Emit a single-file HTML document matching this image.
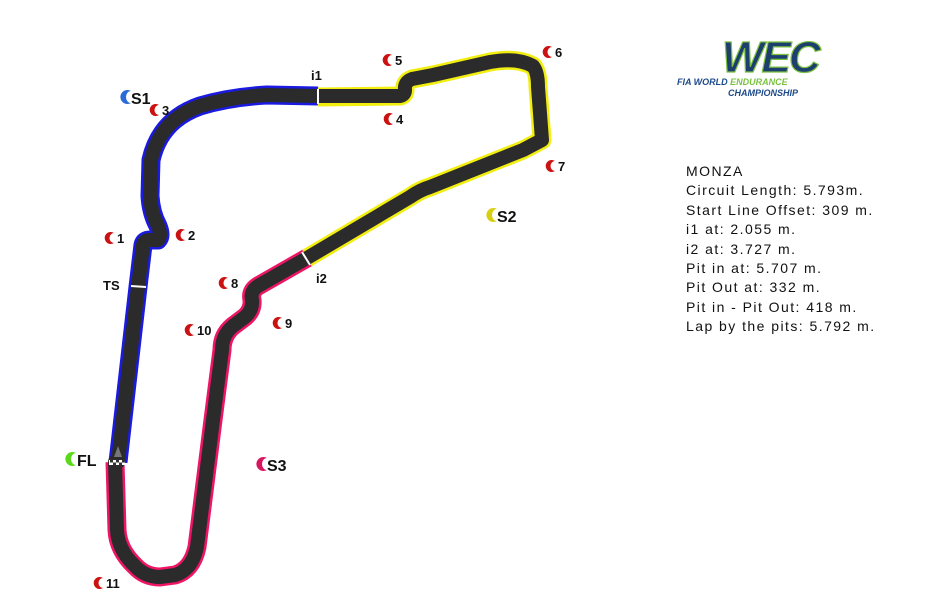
<!DOCTYPE html>
<html><head><meta charset="utf-8"><style>
html,body{margin:0;padding:0;background:#fff;width:950px;height:616px;overflow:hidden}
.info{position:absolute;left:686px;top:162px;font-family:"Liberation Sans",sans-serif;font-size:14px;letter-spacing:1.45px;line-height:19.4px;color:#111}
</style></head><body>
<svg width="950" height="616" style="position:absolute;left:0;top:0" font-family="Liberation Sans, sans-serif">
<defs>
<path id="cr" d="M3,-5 A6,6 0 1,0 3,5 A4.5,5 0 1,1 3,-5 Z"/>
</defs>
<g fill="none" stroke-linejoin="round" stroke-linecap="butt">
<path d="M118,462 L138,287 L143,245 Q144,240 150,240 L158,240 Q162,236 158,226 Q151,213 150,196 L151,160 Q160,120 200,106 Q230,97 267,95 L318,96" stroke="#1a1ae0" stroke-width="19"/>
<path d="M318,97 L400,96 Q405,95 405,90 Q404,82 412,79 L433,75 L490,62 Q517,57 533,66 Q538,72 538,87 L542,140 L523,150 L430,187 Q420,190 410,197 L307,258" stroke="#f2ee10" stroke-width="19"/>
<path d="M307,258 L258,286 Q250,291 252,300 Q253,310 245,317 L233,326 Q222,335 222,350 L213,420 L197,547 Q192,570 175,575 L160,577 Q145,577 135,566 Q118,550 117,530 L115,462" stroke="#ee1565" stroke-width="19"/>
<path d="M118,462 L138,287 L143,245 Q144,240 150,240 L158,240 Q162,236 158,226 Q151,213 150,196 L151,160 Q160,120 200,106 Q230,97 267,95 L318,96 L400,96 Q405,95 405,90 Q404,82 412,79 L433,75 L490,62 Q517,57 533,66 Q538,72 538,87 L542,140 L523,150 L430,187 Q420,190 410,197 L307,258 L258,286 Q250,291 252,300 Q253,310 245,317 L233,326 Q222,335 222,350 L213,420 L197,547 Q192,570 175,575 L160,577 Q145,577 135,566 Q118,550 117,530 L115,462 Z" stroke="#2b2b2b" stroke-width="14"/>
</g>
<line x1="318" y1="89" x2="318" y2="104" stroke="#fff" stroke-width="2"/>
<line x1="302" y1="252" x2="310" y2="265" stroke="#fff" stroke-width="2"/>
<line x1="131" y1="286" x2="146" y2="287" stroke="#fff" stroke-width="2"/>
<rect x="109" y="460" width="16" height="5" fill="#fff"/>
<path d="M110,460h3v2.5h-3zM116,460h3v2.5h-3zM122,460h3v2.5h-3zM113,462.5h3v2.5h-3zM119,462.5h3v2.5h-3z" fill="#333"/>
<path d="M114,457 L118,446 L122,457Z" fill="#777"/>
<g font-size="13" font-weight="bold" fill="#111">
<g fill="#cc1111">
<use href="#cr" x="111" y="238"/><use href="#cr" x="182" y="235"/><use href="#cr" x="156" y="110"/>
<use href="#cr" x="390" y="119"/><use href="#cr" x="389" y="60"/><use href="#cr" x="549" y="52"/>
<use href="#cr" x="552" y="166"/><use href="#cr" x="225" y="283"/><use href="#cr" x="279" y="323"/>
<use href="#cr" x="191" y="330"/><use href="#cr" x="100" y="583"/>
</g>
<text x="117" y="243">1</text><text x="188" y="240">2</text><text x="162" y="115">3</text>
<text x="396" y="124">4</text><text x="395" y="65">5</text><text x="555" y="57">6</text>
<text x="558" y="171">7</text><text x="231" y="288">8</text><text x="285" y="328">9</text>
<text x="197" y="335">10</text><text x="106" y="588">11</text>
<text x="311" y="80">i1</text><text x="316" y="283">i2</text>
<text x="103" y="290">TS</text>
<g font-size="16">
<path d="M131,91 A7,7 0 1,0 131,103 A5,6 0 1,1 131,91Z" fill="#2b6bd8"/><text x="131" y="104">S1</text>
<path d="M497,209 A7,7 0 1,0 497,221 A5,6 0 1,1 497,209Z" fill="#d8cf10"/><text x="497" y="222">S2</text>
<path d="M267,458 A7,7 0 1,0 267,470 A5,6 0 1,1 267,458Z" fill="#d81560"/><text x="267" y="471">S3</text>
<path d="M76,453 A7,7 0 1,0 76,465 A5,6 0 1,1 76,453Z" fill="#5ad81a"/><text x="77" y="466">FL</text>
</g>
</g>
<g>
<text x="722" y="72" font-size="44" font-style="italic" font-weight="bold" fill="#1d3f6e" stroke="#7cc242" stroke-width="1.2" letter-spacing="-2">WEC</text>
<text x="677" y="85" font-size="9" font-style="italic" font-weight="bold" fill="#1d4a8a">FIA WORLD <tspan fill="#7cc242">ENDURANCE</tspan></text>
<text x="728" y="96" font-size="9" font-style="italic" font-weight="bold" fill="#1d4a8a">CHAMPIONSHIP</text>
</g>
</svg>
<div class="info">MONZA<br>Circuit Length: 5.793m.<br>Start Line Offset: 309 m.<br>i1 at: 2.055 m.<br>i2 at: 3.727 m.<br>Pit in at: 5.707 m.<br>Pit Out at: 332 m.<br>Pit in - Pit Out: 418 m.<br>Lap by the pits: 5.792 m.</div>
</body></html>
